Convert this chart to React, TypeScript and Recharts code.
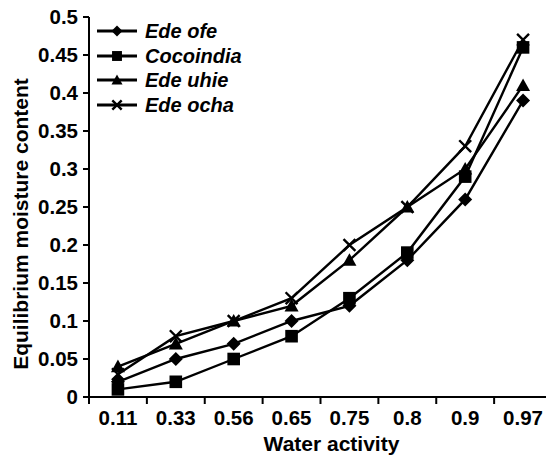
import { ComposedChart, Line, XAxis, YAxis, Legend, Label } from "recharts";

const waterActivity = ["0.11", "0.33", "0.56", "0.65", "0.75", "0.8", "0.9", "0.97"];
const edeOfe = [0.02, 0.05, 0.07, 0.1, 0.12, 0.18, 0.26, 0.39];
const cocoindia = [0.01, 0.02, 0.05, 0.08, 0.13, 0.19, 0.29, 0.46];
const edeUhie = [0.04, 0.07, 0.1, 0.12, 0.18, 0.25, 0.3, 0.41];
const edeOcha = [0.03, 0.08, 0.1, 0.13, 0.2, 0.25, 0.33, 0.47];
const yTicks = [0, 0.05, 0.1, 0.15, 0.2, 0.25, 0.3, 0.35, 0.4, 0.45, 0.5];

const FONT = "'Liberation Sans', Arial, Helvetica, sans-serif";
const CHART_W = 568;
const CHART_H = 455;
const Y_W = 81;
const M_LEFT = 8;
const M_RIGHT = 16;
const BAND = (CHART_W - M_LEFT - Y_W - M_RIGHT) / waterActivity.length;

type Shape = "diamond" | "square" | "triangle" | "cross";

const series: { key: string; name: string; shape: Shape }[] = [
  { key: "edeOfe", name: "Ede ofe", shape: "diamond" },
  { key: "cocoindia", name: "Cocoindia", shape: "square" },
  { key: "edeUhie", name: "Ede uhie", shape: "triangle" },
  { key: "edeOcha", name: "Ede ocha", shape: "cross" },
];

const data = waterActivity.map((aw, i) => ({
  aw,
  edeOfe: edeOfe[i],
  cocoindia: cocoindia[i],
  edeUhie: edeUhie[i],
  edeOcha: edeOcha[i],
}));

function Marker({ shape, cx, cy, s = 7 }: { shape: Shape; cx: number; cy: number; s?: number }) {
  if (cx == null || cy == null) return null;
  if (shape === "diamond")
    return <path d={`M${cx},${cy - s}L${cx + s},${cy}L${cx},${cy + s}L${cx - s},${cy}Z`} fill="#000" />;
  if (shape === "square")
    return <rect x={cx - s * 0.9} y={cy - s * 0.9} width={s * 1.8} height={s * 1.8} fill="#000" />;
  if (shape === "triangle")
    return <path d={`M${cx},${cy - s}L${cx + s},${cy + s * 0.8}L${cx - s},${cy + s * 0.8}Z`} fill="#000" />;
  return (
    <path
      d={`M${cx - s * 0.85},${cy - s * 0.85}L${cx + s * 0.85},${cy + s * 0.85}M${cx + s * 0.85},${cy - s * 0.85}L${cx - s * 0.85},${cy + s * 0.85}`}
      stroke="#000"
      strokeWidth={2.4}
      fill="none"
    />
  );
}

// tick marks sit on category boundaries, labels in the middle
function XTick({ x, y, payload }: any) {
  const left = x - BAND / 2;
  return (
    <g>
      <line x1={left} x2={left} y1={y} y2={y + 7} stroke="#000" strokeWidth={2} />
      <text x={x} y={y + 28} textAnchor="middle" fill="#000" fontSize={20.5} fontWeight="bold" fontFamily={FONT}>
        {payload.value}
      </text>
    </g>
  );
}

function LegendBox() {
  return (
    <div style={{ fontFamily: FONT, fontSize: 20, fontStyle: "italic", fontWeight: "bold", color: "#000" }}>
      {series.map((s) => (
        <div key={s.key} style={{ display: "flex", alignItems: "center", height: 24.5 }}>
          <svg width={40} height={20} style={{ display: "block" }}>
            <line x1={0} x2={40} y1={10} y2={10} stroke="#000" strokeWidth={2.8} />
            <Marker shape={s.shape} cx={20} cy={10} s={5.5} />
          </svg>
          <span style={{ marginLeft: 8, lineHeight: "20px" }}>{s.name}</span>
        </div>
      ))}
    </div>
  );
}

export default function App() {
  return (
    <div style={{ position: "absolute", top: 0, left: 0, width: 546, height: CHART_H, overflow: "hidden" }}>
      <ComposedChart
        width={CHART_W}
        height={CHART_H}
        data={data}
        margin={{ top: 17, right: M_RIGHT, bottom: 0, left: M_LEFT }}
      >
        <XAxis
          dataKey="aw"
          scale="band"
          height={58}
          tick={<XTick />}
          tickLine={false}
          tickSize={0}
          tickMargin={0}
          interval={0}
          axisLine={{ stroke: "#000", strokeWidth: 2 }}
        >
          <Label
            content={({ viewBox }: any) => (
              <text
                x={viewBox.x + viewBox.width / 2 + 11}
                y={viewBox.y + 54}
                textAnchor="middle"
                fill="#000"
                fontSize={21}
                fontWeight="bold"
                fontFamily={FONT}
              >
                Water activity
              </text>
            )}
          />
        </XAxis>
        <YAxis
          width={Y_W}
          domain={[0, 0.5]}
          ticks={yTicks}
          interval={0}
          tickSize={6}
          tickMargin={5}
          tickFormatter={(v: number) => String(Number(v.toFixed(2)))}
          tick={{ fill: "#000", fontSize: 20.5, fontWeight: "bold", fontFamily: FONT }}
          tickLine={{ stroke: "#000", strokeWidth: 2 }}
          axisLine={{ stroke: "#000", strokeWidth: 2 }}
        >
          <Label
            content={({ viewBox }: any) => {
              const cx = viewBox.x + 20;
              const cy = viewBox.y + viewBox.height / 2 + 17;
              return (
                <text
                  x={cx}
                  y={cy}
                  transform={`rotate(-90 ${cx} ${cy})`}
                  textAnchor="middle"
                  fill="#000"
                  fontSize={21}
                  fontWeight="bold"
                  fontFamily={FONT}
                >
                  Equilibrium moisture content
                </text>
              );
            }}
          />
        </YAxis>
        <Legend
          layout="horizontal"
          verticalAlign="middle"
          align="center"
          wrapperStyle={{ top: 19, left: 97, width: 200 }}
          content={() => <LegendBox />}
        />
        {series.map((s) => (
          <Line
            key={s.key}
            type="linear"
            dataKey={s.key}
            name={s.name}
            stroke="#000"
            strokeWidth={2.4}
            isAnimationActive={false}
            activeDot={false}
            dot={(p: any) => <Marker key={`${s.key}-${p.index}`} shape={s.shape} cx={p.cx} cy={p.cy} />}
          />
        ))}
      </ComposedChart>
    </div>
  );
}
